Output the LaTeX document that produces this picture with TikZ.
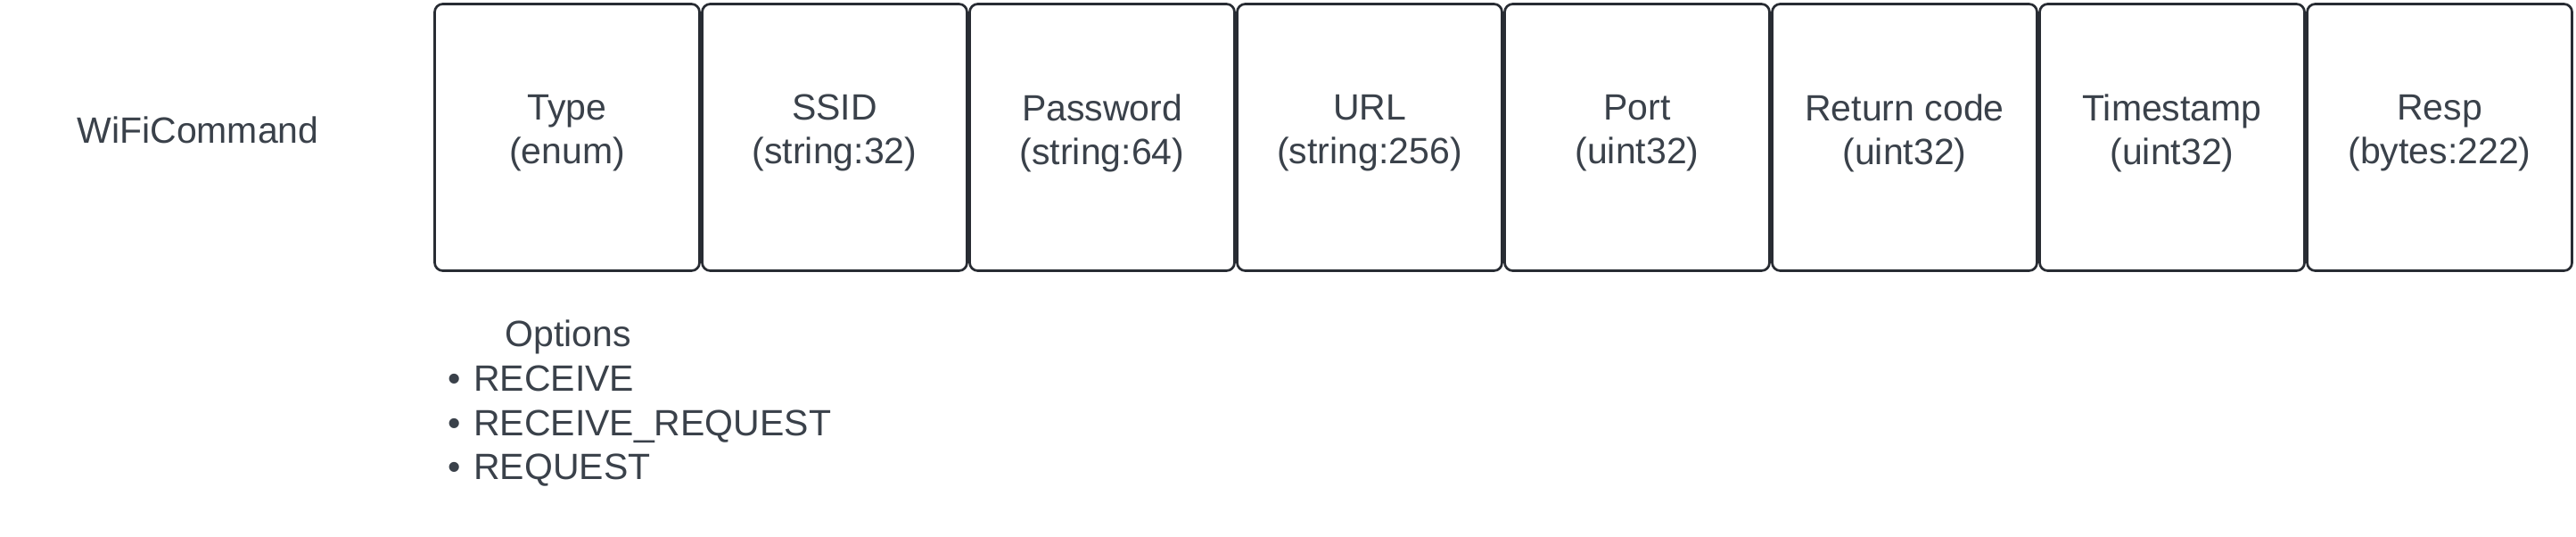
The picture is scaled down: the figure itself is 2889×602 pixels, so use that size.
\documentclass[tikz,border=0pt]{standalone}
\usepackage{fontspec}
\setmainfont{Liberation Sans}
\definecolor{txt}{HTML}{3A414A}
\definecolor{edge}{HTML}{282C33}
\begin{document}
\begin{tikzpicture}[x=1pt,y=-1pt,
  field/.style={draw=edge, line width=2.7pt, rounded corners=9pt, fill=white,
    minimum width=297pt, minimum height=299pt, inner sep=0pt},
  ftext/.style={text=txt, align=center, inner sep=0pt,
    font=\fontsize{41}{49}\selectfont},
  ltext/.style={text=txt, inner sep=0pt, font=\fontsize{41}{49}\selectfont}]
\useasboundingbox (0,0) rectangle (2889,602);
\node[ltext, anchor=base] (title) at (222,160) {WiFiCommand};
\foreach \i/\a/\b in {0/Type/(enum), 1/SSID/(string:32), 2/Password/(string:64),
  3/URL/(string:256), 4/Port/(uint32), 5/Return code/(uint32),
  6/Timestamp/(uint32), 7/Resp/(bytes:222)} {
  \node[field] (f\i) at (636+300*\i,154) {};
  \node[ftext] (t\i) at ([yshift=5pt]f\i.center) {\a\\\b};
}
\node[ltext, anchor=base] (opt) at (637,388) {Options};
\foreach \j/\s/\yy in {1/RECEIVE/438, 2/RECEIVE\_REQUEST/488, 3/REQUEST/537} {
  \node[ltext, anchor=base] (bul\j) at (510,\yy) {•};
  \node[ltext, anchor=base west] (o\j) at (531,\yy) {\s};
}
\end{tikzpicture}
\end{document}
